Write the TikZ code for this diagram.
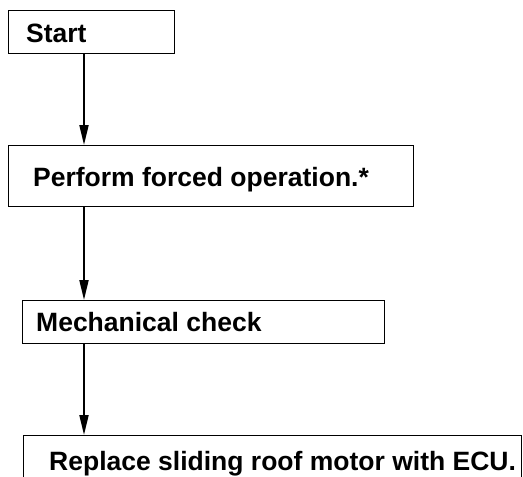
\documentclass[tikz,border=0pt]{standalone}
\usepackage{fontspec}
\setmainfont{Liberation Sans}
\usetikzlibrary{arrows.meta}
\begin{document}
\begin{tikzpicture}[x=1pt,y=1pt,
  stepbox/.style={draw=black,line width=1.4pt,rectangle,inner sep=0pt,anchor=north west},
  lbl/.style={anchor=base west,inner sep=0pt,font=\fontsize{26.5}{30}\selectfont\bfseries},
  arr/.style={line width=2pt,-{Triangle[width=9pt,length=20pt]}}]
\clip (0,0) rectangle (523,-477);
\useasboundingbox (0,0) rectangle (523,-477);
\node[stepbox,minimum width=166pt,minimum height=43.5pt] (b1) at (8,-9.5) {};
\node[stepbox,minimum width=405pt,minimum height=61pt] (b2) at (8,-145) {};
\node[stepbox,minimum width=362pt,minimum height=43pt] (b3) at (22,-300) {};
\node[stepbox,minimum width=498pt,minimum height=70pt] (b4) at (23,-435) {};
\node[lbl] (t1) at (26,-42.7) {Start};
\node[lbl] (t2) at (33,-186.5) {Perform forced operation.*};
\node[lbl] (t3) at (36,-331) {Mechanical check};
\node[lbl] (t4) at (49,-470) {Replace sliding roof motor with ECU.};
\coordinate (ax) at (84,0);
\draw[arr] (b1.south -| ax) -- (b2.north -| ax);
\draw[arr] (b2.south -| ax) -- (b3.north -| ax);
\draw[arr] (b3.south -| ax) -- (b4.north -| ax);
\end{tikzpicture}
\end{document}
